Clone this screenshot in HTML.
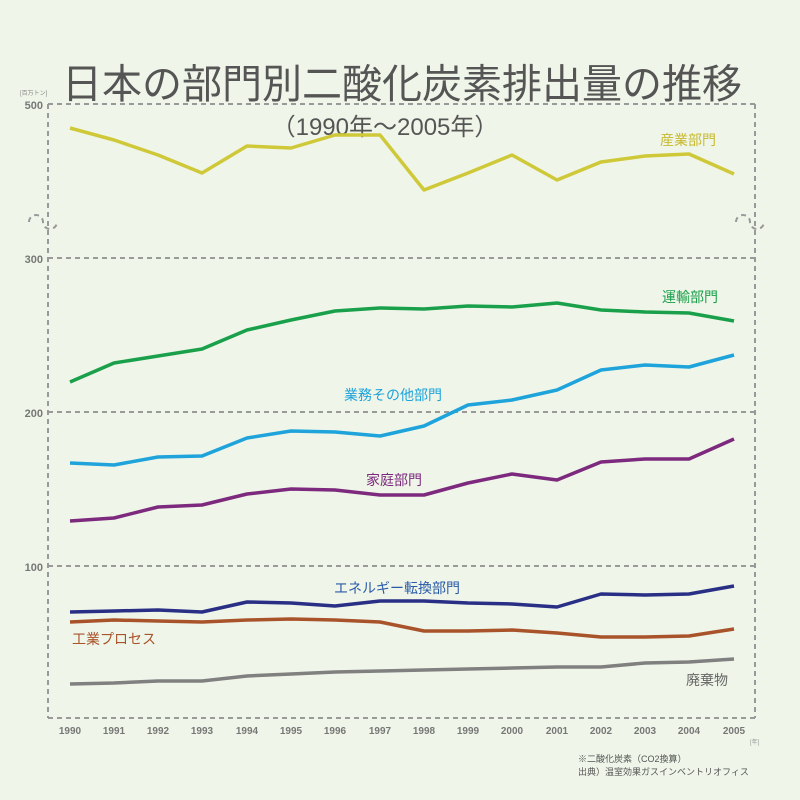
<!DOCTYPE html>
<html><head><meta charset="utf-8"><style>
body{margin:0;background:#eff6e9;}
svg{display:block}
text{font-family:"Liberation Sans","Noto Sans CJK JP",sans-serif;}
</style></head><body>
<svg width="800" height="800" viewBox="0 0 800 800">
<rect width="800" height="800" fill="#eff6e9"/>
<text x="402" y="98" text-anchor="middle" font-size="40.5" fill="#555" textLength="680" lengthAdjust="spacingAndGlyphs">日本の部門別二酸化炭素排出量の推移</text>
<text x="385" y="135" text-anchor="middle" font-size="24" fill="#555">（1990年～2005年）</text>
<g stroke="#999" stroke-width="2" stroke-dasharray="5,4" fill="none">
<line x1="48" y1="104" x2="755" y2="104"/>
<line x1="48" y1="258" x2="755" y2="258"/>
<line x1="48" y1="412" x2="755" y2="412"/>
<line x1="48" y1="566" x2="755" y2="566"/>
<line x1="48" y1="718" x2="755" y2="718"/>
<line x1="48" y1="104" x2="48" y2="718"/>
<line x1="755" y1="104" x2="755" y2="718"/>
<path d="M29,222 a7,7 0 0 1 14,0 a7,7 0 0 0 14,0"/>
<path d="M736,222 a7,7 0 0 1 14,0 a7,7 0 0 0 14,0"/>
</g>
<g font-size="11" fill="#777" font-weight="bold" text-anchor="end">
<text x="43" y="109">500</text><text x="43" y="263">300</text><text x="43" y="417">200</text><text x="43" y="571">100</text>
</g>
<text x="20" y="95" font-size="6" fill="#888">[百万トン]</text>
<g font-size="10" fill="#777" font-weight="bold" text-anchor="middle">
<text x="70" y="734">1990</text><text x="114" y="734">1991</text><text x="158" y="734">1992</text><text x="202" y="734">1993</text><text x="247" y="734">1994</text><text x="291" y="734">1995</text><text x="335" y="734">1996</text><text x="380" y="734">1997</text><text x="424" y="734">1998</text><text x="468" y="734">1999</text><text x="512" y="734">2000</text><text x="557" y="734">2001</text><text x="601" y="734">2002</text><text x="645" y="734">2003</text><text x="689" y="734">2004</text><text x="734" y="734">2005</text>
</g>
<text x="750" y="744" font-size="6" fill="#999">[年]</text>
<text x="578" y="762" font-size="9" fill="#555">※二酸化炭素（CO2換算）</text>
<text x="578" y="775" font-size="9" fill="#555">出典）温室効果ガスインベントリオフィス</text>
<g fill="none" stroke-width="3.5" stroke-linejoin="round">
<polyline stroke="#cfc93a" points="70,128 114,140 158,155 202,173 247,146 291,148 335,135 380,135 424,190 468,173 512,155 557,180 601,162 645,156 689,154 734,174"/>
<polyline stroke="#1aa04a" points="70,382 114,363 158,356 202,349 247,330 291,320 335,311 380,308 424,309 468,306 512,307 557,303 601,310 645,312 689,313 734,321"/>
<polyline stroke="#1ea3db" points="70,463 114,465 158,457 202,456 247,438 291,431 335,432 380,436 424,426 468,405 512,400 557,390 601,370 645,365 689,367 734,355"/>
<polyline stroke="#7d2a7e" points="70,521 114,518 158,507 202,505 247,494 291,489 335,490 380,495 424,495 468,483 512,474 557,480 601,462 645,459 689,459 734,439"/>
<polyline stroke="#2a2f86" points="70,612 114,611 158,610 202,612 247,602 291,603 335,606 380,601 424,601 468,603 512,604 557,607 601,594 645,595 689,594 734,586"/>
<polyline stroke="#a9532a" points="70,622 114,620 158,621 202,622 247,620 291,619 335,620 380,622 424,631 468,631 512,630 557,633 601,637 645,637 689,636 734,629"/>
<polyline stroke="#808080" points="70,684 114,683 158,681 202,681 247,676 291,674 335,672 380,671 424,670 468,669 512,668 557,667 601,667 645,663 689,662 734,659"/>
</g>
<g font-size="14">
<text x="660" y="145" fill="#c8b92e">産業部門</text>
<text x="662" y="302" fill="#1aa04a">運輸部門</text>
<text x="344" y="400" fill="#1ea3db">業務その他部門</text>
<text x="366" y="485" fill="#7d2a7e">家庭部門</text>
<text x="334" y="593" fill="#2a5aa8">エネルギー転換部門</text>
<text x="72" y="644" fill="#a9532a">工業プロセス</text>
<text x="686" y="685" fill="#666">廃棄物</text>
</g>
</svg>
</body></html>
